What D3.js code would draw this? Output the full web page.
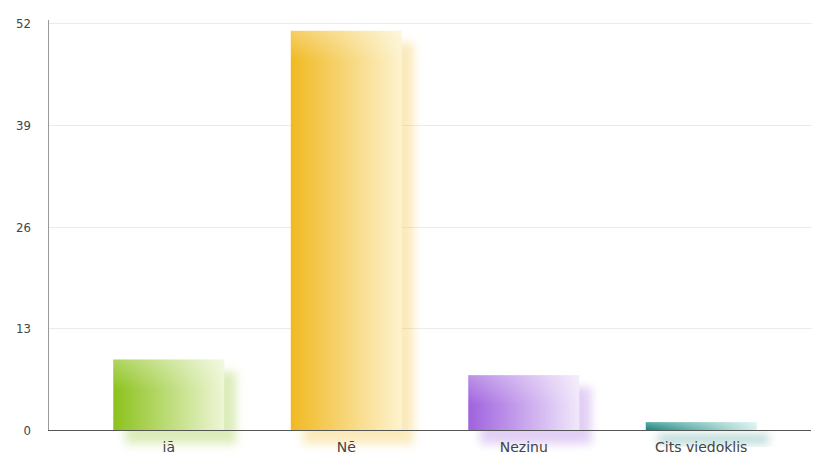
<!DOCTYPE html>
<html><head><meta charset="utf-8">
<script src="https://cdn.jsdelivr.net/npm/d3@7"></script>
<style>body{margin:0;background:#fff}svg{display:block}</style>
</head><body><svg id="c" width="813" height="459"></svg>
<script>
const categories = ["iā", "Nē", "Nezinu", "Cits viedoklis"];
const values = [9, 51, 7, 1];
const tickValues = [0, 13, 26, 39, 52];
const colorsDark = ["#8cc21c", "#f1b922", "#9f62de", "#17877e"];
const colorsLight = ["#eef6d6", "#fdf3cf", "#f1e8fb", "#d4f1ee"];

const svg = d3.select("#c");
const W = 813, H = 459;
const m = {l: 48, r: 1, t: 23, b: 29};
const x = d3.scaleBand().domain(categories).range([80, 790]).paddingInner(0.375).paddingOuter(0.1875);
const y = d3.scaleLinear().domain([0, 52]).range([H - m.b, m.t]);

const defs = svg.append("defs");
defs.append("filter").attr("id", "blur").attr("x", "-30%").attr("y", "-30%").attr("width", "160%").attr("height", "160%")
  .append("feGaussianBlur").attr("stdDeviation", 5);
categories.forEach((c, i) => {
  const g = defs.append("linearGradient").attr("id", "g" + i).attr("x1", 0).attr("x2", 1).attr("y1", 0).attr("y2", 0);
  g.append("stop").attr("offset", 0).attr("stop-color", colorsDark[i]);
  g.append("stop").attr("offset", 1).attr("stop-color", colorsLight[i]);
  const t = defs.append("linearGradient").attr("id", "t" + i).attr("x1", 0).attr("x2", 0).attr("y1", 0).attr("y2", 1);
  t.append("stop").attr("offset", 0).attr("stop-color", "#fff").attr("stop-opacity", 0.3);
  t.append("stop").attr("offset", 1).attr("stop-color", "#fff").attr("stop-opacity", 0);
});

// gridlines
svg.append("g").selectAll("line").data(tickValues.filter(d => d > 0)).join("line")
  .attr("x1", m.l).attr("x2", W - m.r).attr("y1", d => Math.round(y(d)) + 0.5).attr("y2", d => Math.round(y(d)) + 0.5)
  .attr("stroke", "#ebebeb").attr("stroke-width", 1);

// y tick labels
svg.append("g").selectAll("text").data(tickValues).join("text")
  .attr("x", 31).attr("y", d => y(d) + 5).attr("text-anchor", "end")
  .attr("font-family", "DejaVu Sans Condensed, DejaVu Sans, sans-serif").attr("font-size", 13).attr("fill", "#444")
  .text(d => d);

// shadows
svg.append("g").selectAll("rect").data(values).join("rect")
  .attr("x", (d, i) => x(categories[i]) + 12)
  .attr("y", d => y(d) + 12)
  .attr("width", x.bandwidth())
  .attr("height", d => y(0) - y(d) + 2)
  .attr("fill", (d, i) => colorsDark[i]).attr("opacity", 0.3)
  .attr("filter", "url(#blur)");

// bars
const bars = svg.append("g");
bars.selectAll("rect.b").data(values).join("rect").attr("class", "b")
  .attr("x", (d, i) => x(categories[i]))
  .attr("y", d => y(d))
  .attr("width", x.bandwidth())
  .attr("height", d => y(0) - y(d))
  .attr("fill", (d, i) => `url(#g${i})`);
bars.selectAll("rect.t").data(values).join("rect").attr("class", "t")
  .attr("x", (d, i) => x(categories[i]))
  .attr("y", d => y(d))
  .attr("width", x.bandwidth())
  .attr("height", d => Math.min(30, y(0) - y(d)))
  .attr("fill", (d, i) => `url(#t${i})`);

// axes lines
svg.append("line").attr("x1", m.l + 0.5).attr("x2", m.l + 0.5).attr("y1", 20).attr("y2", y(0))
  .attr("stroke", "#999").attr("stroke-width", 1);
svg.append("line").attr("x1", m.l).attr("x2", W - 2).attr("y1", y(0) + 0.5).attr("y2", y(0) + 0.5)
  .attr("stroke", "#555").attr("stroke-width", 1.2);

// x labels
svg.append("g").selectAll("text").data(categories).join("text")
  .attr("x", d => x(d) + x.bandwidth() / 2).attr("y", 452).attr("text-anchor", "middle")
  .attr("font-family", "DejaVu Sans, Verdana, sans-serif").attr("font-size", 14).attr("fill", "#444")
  .text(d => d);
</script></body></html>
